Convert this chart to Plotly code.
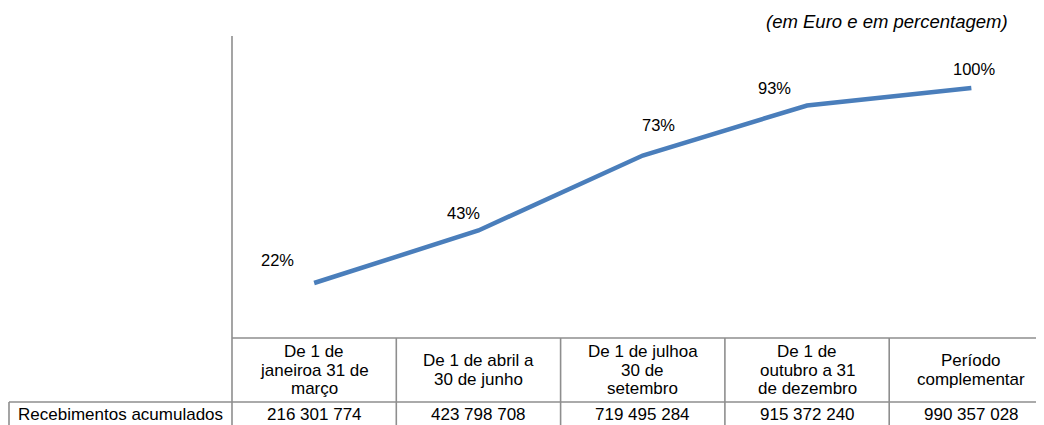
import plotly.graph_objects as go

# ---- data ----
categories = [
    "De 1 de\njaneiroa 31 de\nmarço",
    "De 1 de abril a\n30 de junho",
    "De 1 de julhoa\n30 de\nsetembro",
    "De 1 de\noutubro a 31\nde dezembro",
    "Período\ncomplementar",
]
pct_values = [0.22, 0.43, 0.73, 0.93, 1.00]
pct_labels = ["22%", "43%", "73%", "93%", "100%"]
received = [216301774, 423798708, 719495284, 915372240, 990357028]
row_label = "Recebimentos acumulados"
subtitle = "(em Euro e em percentagem)"

# ---- layout geometry (page pixels; the page body adds an 8 px margin) ----
OFF = 8
WIN_W, WIN_H = 1044, 425
W, H = WIN_W - OFF, WIN_H - OFF
REF_L, REF_T, REF_B = 232, 38, 338   # plot left, top, bottom in page px
PL, PT, PB = REF_L - OFF, REF_T - OFF, REF_B - OFF
PW, PH = W - PL, PB - PT
COLW = 164.3                          # category width in px
FONT = "Liberation Sans, Arial, sans-serif"
GRID = "#8e8e8e"
BLUE = "#4a7ebb"
TXT = 17
label_offsets = [(-37, -23), (-15, -18), (16, -31), (-33, -18), (3, -19)]


def px2x(px):
    """page px -> paper x"""
    return (px - REF_L) / PW


def py2y(py):
    """page px -> paper y"""
    return (REF_B - py) / PH


fig = go.Figure()
xs = list(range(len(categories)))
fig.add_trace(go.Scatter(
    x=xs, y=pct_values, mode="lines",
    line=dict(color=BLUE, width=4.5), hoverinfo="skip", showlegend=False,
))

annotations = []
# data labels
for i, (v, lab) in enumerate(zip(pct_values, pct_labels)):
    dx, dy = label_offsets[i]
    annotations.append(dict(
        x=i, y=v, xref="x", yref="y", text=lab, showarrow=False,
        xshift=dx, yshift=-dy, font=dict(family=FONT, size=16.5, color="#000"),
    ))

# header row (category names), centred at y=370 px
for i, cat in enumerate(categories):
    lines = cat.split("\n")
    n = len(lines)
    for k, ln in enumerate(lines):
        ypix = 370 + (k - (n - 1) / 2) * 18.5
        annotations.append(dict(
            x=i, y=py2y(ypix), xref="x", yref="paper", text=ln,
            showarrow=False, yanchor="middle", xanchor="center",
            font=dict(family=FONT, size=TXT, color="#000"),
        ))

# value row
for i, v in enumerate(received):
    txt = f"{v:,}".replace(",", " ")
    annotations.append(dict(
        x=i, y=py2y(414), xref="x", yref="paper", text=txt,
        showarrow=False, yanchor="middle", xanchor="center",
        font=dict(family=FONT, size=TXT, color="#000"),
    ))
annotations.append(dict(
    x=px2x(120), y=py2y(414), xref="paper", yref="paper", text=row_label,
    showarrow=False, yanchor="middle", xanchor="center",
    font=dict(family=FONT, size=TXT, color="#000"),
))

# subtitle
annotations.append(dict(
    x=px2x(887), y=py2y(21), xref="paper", yref="paper",
    text=f"<i>{subtitle}</i>", showarrow=False, yanchor="middle", xanchor="center",
    font=dict(family=FONT, size=18.5, color="#000"),
))

shapes = []
lw = 1.6
# vertical axis line through table
shapes.append(dict(type="line", xref="paper", yref="paper",
                   x0=0, x1=0, y0=py2y(36), y1=py2y(440),
                   line=dict(color=GRID, width=lw)))
# header top line
shapes.append(dict(type="line", xref="paper", yref="paper",
                   x0=0, x1=1.02, y0=py2y(338), y1=py2y(338),
                   line=dict(color=GRID, width=lw)))
# row divider
shapes.append(dict(type="line", xref="paper", yref="paper",
                   x0=px2x(9), x1=1.02, y0=py2y(402), y1=py2y(402),
                   line=dict(color=GRID, width=lw)))
# left border of label cell
shapes.append(dict(type="line", xref="paper", yref="paper",
                   x0=px2x(9), x1=px2x(9), y0=py2y(402), y1=py2y(440),
                   line=dict(color=GRID, width=lw)))
# column separators
for i in range(len(categories) - 1):
    shapes.append(dict(type="line", xref="x", yref="paper",
                       x0=i + 0.5, x1=i + 0.5, y0=py2y(338), y1=py2y(440),
                       line=dict(color=GRID, width=lw)))

x_max = -0.5 + PW / COLW
fig.update_layout(
    width=W, height=H,
    margin=dict(l=PL, r=0, t=PT, b=H - PB, pad=0),
    paper_bgcolor="white", plot_bgcolor="white",
    xaxis=dict(range=[-0.5, x_max], showgrid=False, zeroline=False,
               showticklabels=False, ticks="", showline=False, fixedrange=True),
    yaxis=dict(range=[0, 1.2], showgrid=False, zeroline=False,
               showticklabels=False, ticks="", showline=False, fixedrange=True),
    annotations=annotations, shapes=shapes,
    showlegend=False,
)

fig.write_html("out.html")
